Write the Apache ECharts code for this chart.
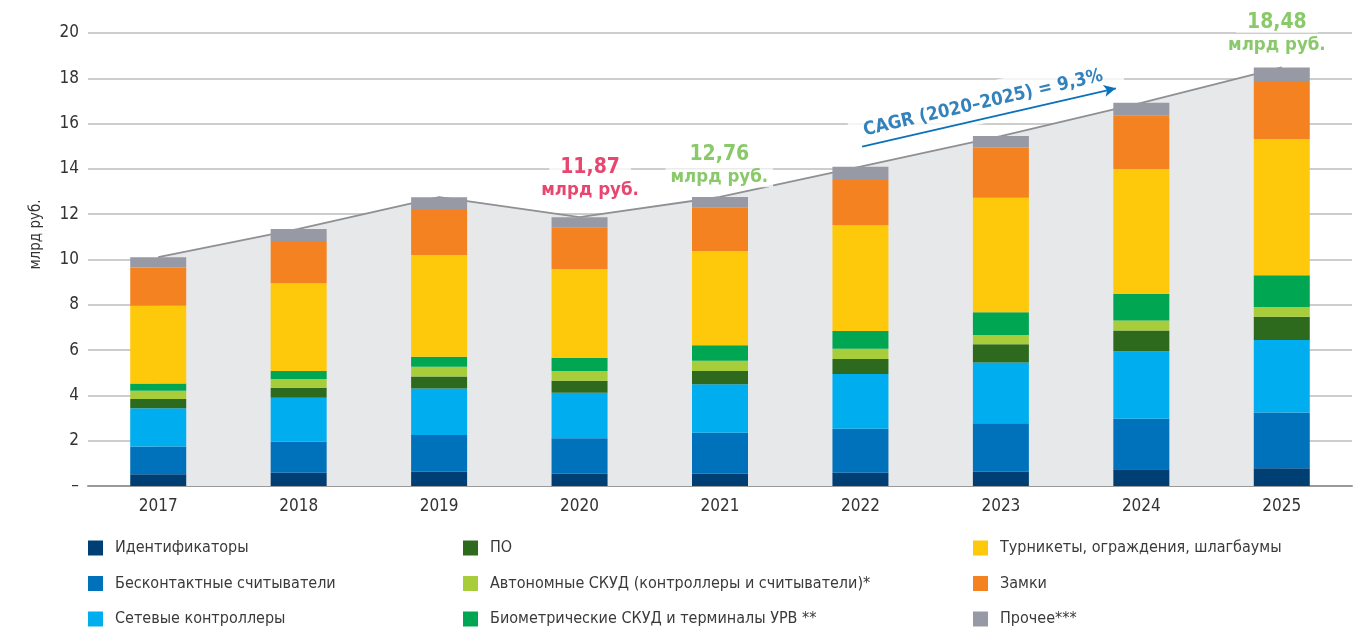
<!DOCTYPE html>
<html>
<head>
<meta charset="utf-8">
<script src="https://cdn.jsdelivr.net/npm/echarts@6/dist/echarts.min.js"></script>
<style>
html,body{margin:0;padding:0;background:#fff;}
#c{width:1364px;height:634px;}
</style>
</head>
<body>
<div id="c"></div>
<script>
// ---- data ----
const years = ['2017','2018','2019','2020','2021','2022','2023','2024','2025'];
const seriesNames = [
  'Идентификаторы',
  'Бесконтактные считыватели',
  'Сетевые контроллеры',
  'ПО',
  'Автономные СКУД (контроллеры и считыватели)*',
  'Биометрические СКУД и терминалы УРВ **',
  'Турникеты, ограждения, шлагбаумы',
  'Замки',
  'Прочее***'
];
const identifiers = [0.52,0.59,0.63,0.54,0.54,0.59,0.63,0.74,0.78];
const contactless = [1.22,1.37,1.62,1.57,1.81,1.94,2.14,2.23,2.46];
const netControllers = [1.69,1.94,2.05,2.01,2.14,2.41,2.68,2.98,3.21];
const software = [0.41,0.44,0.53,0.53,0.59,0.67,0.81,0.91,1.02];
const autonomous = [0.37,0.38,0.44,0.43,0.45,0.45,0.41,0.45,0.43];
const biometric = [0.32,0.36,0.44,0.58,0.68,0.78,1.00,1.18,1.40];
const turnstiles = [3.43,3.87,4.49,3.92,4.17,4.67,5.06,5.51,6.02];
const locks = [1.69,1.87,1.99,1.84,1.91,2.04,2.22,2.37,2.56];
const other = [0.45,0.53,0.56,0.45,0.47,0.55,0.50,0.55,0.60];
const yTicks = [0,2,4,6,8,10,12,14,16,18,20];
// annotation texts and anchors (in category-index / value units)
const totalLabels = [
  {text:'11,87', x:3.075, y:13.55, color:'#e2164b'},
  {text:'12,76', x:3.995, y:14.12, color:'#6cbb45'},
  {text:'18,48', x:7.965, y:19.97, color:'#6cbb45'}
];
const cagrText = 'CAGR (2020–2025) = 9,3%';
const cagrAnchor = [5.895, 16.93];
const cagrArrow = [[5.012, 14.98], [6.819, 17.56]];

const colors = ['#003f73','#0071bb','#00aeef','#2d6a1e','#a7cd3a','#00a651','#fec80b','#f48220','#979aa5'];
const allSeries = [identifiers, contactless, netControllers, software, autonomous, biometric, turnstiles, locks, other];
const totals = years.map((_, i) => +allSeries.reduce((s, a) => s + a[i], 0).toFixed(2));

const FONT = '"Liberation Sans Narrow","DejaVu Sans Condensed","Roboto",sans-serif';

const chart = echarts.init(document.getElementById('c'));

const barSeries = seriesNames.map((n, k) => ({
  name: n, type: 'bar', stack: 'total', barWidth: 56,
  data: allSeries[k], itemStyle: {color: colors[k]}, z: 3,
  emphasis: {disabled: true}
}));

const legendCol = (left, names) => ({
  orient: 'vertical', left: left, top: 540, padding: 0, itemWidth: 15, itemHeight: 15, itemGap: 19.5,
  icon: 'rect', data: names, selectedMode: false, height: 120,
  textStyle: {fontFamily: FONT, fontSize: 16, color: '#3a3a3a', padding: [0,0,0,7]}
});

chart.setOption({
  animation: false,
  color: colors,
  grid: {left: 88, right: 12, top: 33, bottom: 148, containLabel: false},
  legend: [
    legendCol(88, seriesNames.slice(0,3)),
    legendCol(463, seriesNames.slice(3,6)),
    legendCol(973, seriesNames.slice(6,9))
  ],
  xAxis: [
    {type: 'category', data: years,
     axisLine: {lineStyle: {color: '#9a9a9a', width: 2}}, axisTick: {show: false},
     axisLabel: {fontFamily: FONT, fontSize: 17, color: '#333', margin: 12}},
    {type: 'value', min: -0.5, max: 8.5, show: false}
  ],
  yAxis: {
    type: 'value', min: 0, max: 20, interval: 2,
    name: 'млрд руб.', nameLocation: 'middle', nameGap: 44,
    nameTextStyle: {fontFamily: FONT, fontSize: 15, color: '#333', padding: [0, 0, 0, 50]},
    axisLine: {show: false}, axisTick: {show: false},
    splitLine: {lineStyle: {color: '#bcbcbc', width: 1.5}},
    axisLabel: {fontFamily: FONT, fontSize: 17, color: '#333', margin: 9,
      formatter: v => (v === yTicks[0] ? '–' : String(v))}
  },
  series: [
    {type: 'line', name: 'total', data: totals, symbol: 'none', z: 1,
     lineStyle: {color: '#8e9093', width: 1.8},
     areaStyle: {color: '#e7e8ea', opacity: 1}, emphasis: {disabled: true}, silent: true},
    ...barSeries,
    {type: 'scatter', xAxisIndex: 1, symbolSize: 0, z: 4, clip: false, silent: true,
     data: totalLabels.map(t => ({value: [t.x, t.y],
       label: {show: true, position: 'inside', color: t.color,
         formatter: '{a|' + t.text + '}\n{b|млрд руб.}',
         rich: {
           a: {fontFamily: FONT, fontWeight: 'bold', fontSize: 21, color: t.color, lineHeight: 23,
               backgroundColor: '#fff', padding: [0, 11, 0, 11]},
           b: {fontFamily: FONT, fontWeight: 'bold', fontSize: 18.5, color: t.color, lineHeight: 23,
               backgroundColor: '#fff', padding: [0, 5, 0, 5]}
         }}}))},
    {type: 'scatter', xAxisIndex: 1, symbolSize: 0, z: 4, clip: false, silent: true,
     data: [{value: cagrAnchor,
       label: {show: true, position: 'inside', rotate: 13, formatter: cagrText,
         fontFamily: FONT, fontWeight: 'bold', fontSize: 18.5, color: '#0063aa',
         backgroundColor: '#fff', padding: [6, 20, 15, 14]}}]},
    {type: 'line', xAxisIndex: 1, data: [], z: 6, silent: true,
     markLine: {silent: true, symbol: ['none', 'arrow'], symbolSize: [9, 12], z: 6,
       label: {show: false},
       lineStyle: {color: '#0a72bb', width: 1.8, type: 'solid'},
       data: [[{coord: cagrArrow[0]}, {coord: cagrArrow[1]}]]}}
  ]
});
</script>
</body>
</html>
